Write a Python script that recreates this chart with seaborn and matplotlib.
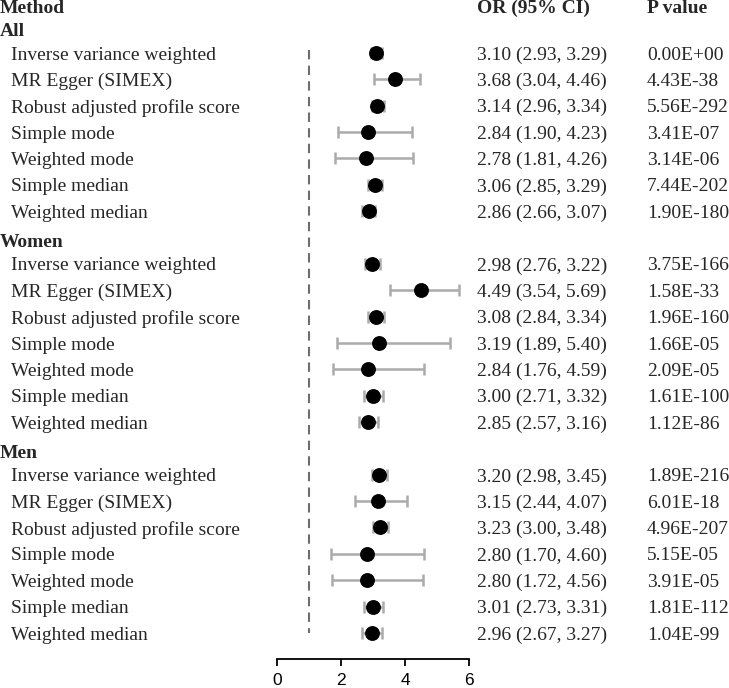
import numpy as np
import pandas as pd
import matplotlib
matplotlib.use('Agg')
import matplotlib.pyplot as plt
import matplotlib.transforms as mtransforms
import seaborn as sns

# data
groups = ['All', 'Women', 'Men']
methods = ['Inverse variance weighted', 'MR Egger (SIMEX)', 'Robust adjusted profile score',
           'Simple mode', 'Weighted mode', 'Simple median', 'Weighted median']

or_all = [3.10, 3.68, 3.14, 2.84, 2.78, 3.06, 2.86]
lo_all = [2.93, 3.04, 2.96, 1.90, 1.81, 2.85, 2.66]
hi_all = [3.29, 4.46, 3.34, 4.23, 4.26, 3.29, 3.07]
p_all = ['0.00E+00', '4.43E-38', '5.56E-292', '3.41E-07', '3.14E-06', '7.44E-202', '1.90E-180']

or_women = [2.98, 4.49, 3.08, 3.19, 2.84, 3.00, 2.85]
lo_women = [2.76, 3.54, 2.84, 1.89, 1.76, 2.71, 2.57]
hi_women = [3.22, 5.69, 3.34, 5.40, 4.59, 3.32, 3.16]
p_women = ['3.75E-166', '1.58E-33', '1.96E-160', '1.66E-05', '2.09E-05', '1.61E-100', '1.12E-86']

or_men = [3.20, 3.15, 3.23, 2.80, 2.80, 3.01, 2.96]
lo_men = [2.98, 2.44, 3.00, 1.70, 1.72, 2.73, 2.67]
hi_men = [3.45, 4.07, 3.48, 4.60, 4.56, 3.31, 3.27]
p_men = ['1.89E-216', '6.01E-18', '4.96E-207', '5.15E-05', '3.91E-05', '1.81E-112', '1.04E-99']

x_ticks = [0, 2, 4, 6]

# build table, one row per line of the plot
rows = []
r = 1
for g, o, lo, hi, p in [('All', or_all, lo_all, hi_all, p_all),
                        ('Women', or_women, lo_women, hi_women, p_women),
                        ('Men', or_men, lo_men, hi_men, p_men)]:
    rows.append(dict(row=r, label=g, group=True, OR=np.nan, lo=np.nan, hi=np.nan, p=''))
    r += 1
    for m, a, b, c, d in zip(methods, o, lo, hi, p):
        rows.append(dict(row=r, label=m, group=False, OR=a, lo=b, hi=c, p=d))
        r += 1
df = pd.DataFrame(rows)
est = df[~df['group']]

sns.set_theme(style='white')
plt.rcParams['font.family'] = ['Liberation Serif', 'DejaVu Serif']

W, H = 729, 688
fig = plt.figure(figsize=(W / 100, H / 100), dpi=100)
ax = fig.add_axes([277 / W, (H - 659) / H, (469 - 277) / W, 659 / H])

# dashed null line at OR = 1
ax.plot([1, 1], [est['row'].min() - 0.1, est['row'].max()], ls=(0, (4.5, 3)),
        color='#6e6e6e', lw=1.5, zorder=1)

ax.errorbar(est['OR'], est['row'], xerr=[est['OR'] - est['lo'], est['hi'] - est['OR']],
            fmt='none', ecolor='#ababab', elinewidth=1.8, capsize=4, capthick=1.8, zorder=2)
sns.scatterplot(data=est, x='OR', y='row', color='black', s=115, edgecolor='black',
                linewidth=0, ax=ax, zorder=3, legend=False)

ax.set_xlim(0, 6)
ax.set_ylim(24.99, -0.011)
ax.set_xticks(x_ticks)
ax.set_xticklabels([str(t) for t in x_ticks], fontfamily='Liberation Sans', fontsize=12.5)
ax.set_yticks([])
ax.set_xlabel('')
ax.set_ylabel('')
for s in ['left', 'right', 'top']:
    ax.spines[s].set_visible(False)
ax.spines['bottom'].set_color('black')
ax.spines['bottom'].set_linewidth(1.3)
ax.tick_params(axis='x', direction='out', length=5, width=1.3, color='black',
               bottom=True, pad=5, labelcolor='black')
ax.grid(False)

# text columns
tr = mtransforms.blended_transform_factory(fig.transFigure, ax.transData)
fs = 14
ax.text(0 / W, 0.3, 'Method', transform=tr, fontsize=fs, fontweight='bold', va='center', clip_on=False)
ax.text(477 / W, 0.3, 'OR (95% CI)', transform=tr, fontsize=fs, fontweight='bold', va='center', clip_on=False)
ax.text(647 / W, 0.3, 'P value', transform=tr, fontsize=fs, fontweight='bold', va='center', clip_on=False)

for _, rw in df.iterrows():
    y = rw['row'] + 0.08
    if rw['group']:
        ax.text(0 / W, y + 0.1, rw['label'], transform=tr, fontsize=fs, fontweight='bold',
                va='center', clip_on=False)
    else:
        ax.text(11 / W, y, rw['label'], transform=tr, fontsize=fs, va='center', clip_on=False)
        ax.text(477 / W, y, f"{rw['OR']:.2f} ({rw['lo']:.2f}, {rw['hi']:.2f})", transform=tr,
                fontsize=fs, va='center', clip_on=False)
        ax.text(647 / W, y, rw['p'], transform=tr, fontsize=fs, va='center', clip_on=False)

fig.savefig('out.png', dpi=100, facecolor='white')
